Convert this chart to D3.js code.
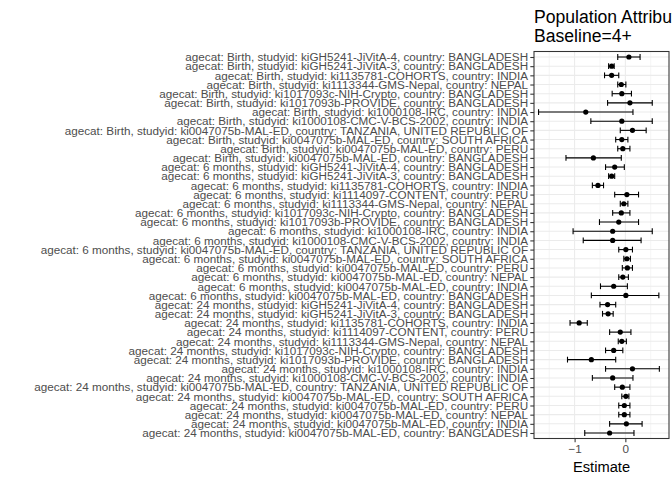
<!DOCTYPE html>
<html>
<head>
<meta charset="utf-8">
<script src="https://cdn.jsdelivr.net/npm/d3@7"></script>
<style>
html,body{margin:0;padding:0;background:#fff;}
svg{display:block;}
text{font-family:"Liberation Sans",Arial,Helvetica,sans-serif;}
</style>
</head>
<body>
<svg id="chart" width="672" height="480"></svg>
<script>
// ---- data (top to bottom) ----
const agecats = [
  "Birth","Birth","Birth","Birth","Birth","Birth","Birth","Birth","Birth","Birth","Birth","Birth",
  "6 months","6 months","6 months","6 months","6 months","6 months","6 months","6 months","6 months","6 months","6 months","6 months","6 months","6 months","6 months",
  "24 months","24 months","24 months","24 months","24 months","24 months","24 months","24 months","24 months","24 months","24 months","24 months","24 months","24 months","24 months"
];
const studyids = [
  "kiGH5241-JiVitA-4","kiGH5241-JiVitA-3","ki1135781-COHORTS","ki1113344-GMS-Nepal","ki1017093c-NIH-Crypto","ki1017093b-PROVIDE","ki1000108-IRC","ki1000108-CMC-V-BCS-2002","ki0047075b-MAL-ED","ki0047075b-MAL-ED","ki0047075b-MAL-ED","ki0047075b-MAL-ED",
  "kiGH5241-JiVitA-4","kiGH5241-JiVitA-3","ki1135781-COHORTS","ki1114097-CONTENT","ki1113344-GMS-Nepal","ki1017093c-NIH-Crypto","ki1017093b-PROVIDE","ki1000108-IRC","ki1000108-CMC-V-BCS-2002","ki0047075b-MAL-ED","ki0047075b-MAL-ED","ki0047075b-MAL-ED","ki0047075b-MAL-ED","ki0047075b-MAL-ED","ki0047075b-MAL-ED",
  "kiGH5241-JiVitA-4","kiGH5241-JiVitA-3","ki1135781-COHORTS","ki1114097-CONTENT","ki1113344-GMS-Nepal","ki1017093c-NIH-Crypto","ki1017093b-PROVIDE","ki1000108-IRC","ki1000108-CMC-V-BCS-2002","ki0047075b-MAL-ED","ki0047075b-MAL-ED","ki0047075b-MAL-ED","ki0047075b-MAL-ED","ki0047075b-MAL-ED","ki0047075b-MAL-ED"
];
const countries = [
  "BANGLADESH","BANGLADESH","INDIA","NEPAL","BANGLADESH","BANGLADESH","INDIA","INDIA","TANZANIA, UNITED REPUBLIC OF","SOUTH AFRICA","PERU","BANGLADESH",
  "BANGLADESH","BANGLADESH","INDIA","PERU","NEPAL","BANGLADESH","BANGLADESH","INDIA","INDIA","TANZANIA, UNITED REPUBLIC OF","SOUTH AFRICA","PERU","NEPAL","INDIA","BANGLADESH",
  "BANGLADESH","BANGLADESH","INDIA","PERU","NEPAL","BANGLADESH","BANGLADESH","INDIA","INDIA","TANZANIA, UNITED REPUBLIC OF","SOUTH AFRICA","PERU","NEPAL","INDIA","BANGLADESH"
];
const estimates = [
  0.07,-0.27,-0.27,-0.08,-0.07,0.09,-0.78,-0.07,0.14,-0.07,-0.05,-0.63,
  -0.21,-0.27,-0.54,0.03,-0.03,-0.08,-0.13,-0.25,-0.25,0.01,0.03,0.04,-0.05,-0.23,0.01,
  -0.35,-0.34,-0.91,-0.10,-0.07,-0.23,-0.67,0.14,-0.25,-0.06,0.01,-0.02,-0.02,0.02,-0.31
];
const lowers = [
  -0.15,-0.33,-0.41,-0.15,-0.26,-0.35,-1.71,-0.68,-0.10,-0.19,-0.15,-1.17,
  -0.39,-0.33,-0.65,-0.21,-0.10,-0.25,-0.51,-1.03,-0.83,-0.13,-0.03,-0.06,-0.13,-0.49,-0.67,
  -0.50,-0.45,-1.09,-0.31,-0.14,-0.39,-1.14,-0.39,-0.65,-0.21,-0.07,-0.13,-0.13,-0.31,-0.80
];
const uppers = [
  0.29,-0.22,-0.13,0.01,0.12,0.53,0.15,0.53,0.41,0.05,0.09,-0.08,
  -0.02,-0.21,-0.43,0.26,0.05,0.09,0.26,0.53,0.31,0.14,0.10,0.14,0.06,0.04,0.66,
  -0.19,-0.24,-0.75,0.11,0.02,-0.05,-0.19,0.67,0.15,0.09,0.07,0.09,0.09,0.33,0.17
];
const xTicks = [-1, 0];
const xMinor = [-1.5, -0.5, 0.5];
const xDomain = [-1.80, 0.86];
const titleLines = ["Population Attributable Difference", "Baseline=4+"];
const xTitle = "Estimate";

// ---- build ----
const labels = agecats.map((a, i) => `agecat: ${a}, studyid: ${studyids[i]}, country: ${countries[i]}`);
const rows = labels.map((l, i) => ({key: i, label: l, est: estimates[i], lo: lowers[i], hi: uppers[i]}));

const svg = d3.select("#chart");
const panel = {left: 534, right: 669, top: 51.5, bottom: 438.5};

const x = d3.scaleLinear().domain(xDomain).range([panel.left, panel.right]);
const y = d3.scalePoint().domain(rows.map(d => d.key)).range([panel.top, panel.bottom]).padding(0.6);

// panel background
svg.append("rect").attr("x", panel.left).attr("y", panel.top)
  .attr("width", panel.right - panel.left).attr("height", panel.bottom - panel.top)
  .attr("fill", "#fff");

// grid
const grid = svg.append("g");
grid.selectAll(".minor").data(xMinor).join("line")
  .attr("x1", d => x(d)).attr("x2", d => x(d))
  .attr("y1", panel.top).attr("y2", panel.bottom)
  .attr("stroke", "#EBEBEB").attr("stroke-width", 0.55);
grid.selectAll(".hmaj").data(rows).join("line")
  .attr("x1", panel.left).attr("x2", panel.right)
  .attr("y1", d => y(d.key)).attr("y2", d => y(d.key))
  .attr("stroke", "#EBEBEB").attr("stroke-width", 1.07);
grid.selectAll(".vmaj").data(xTicks).join("line")
  .attr("x1", d => x(d)).attr("x2", d => x(d))
  .attr("y1", panel.top).attr("y2", panel.bottom)
  .attr("stroke", "#EBEBEB").attr("stroke-width", 1.07);

// error bars
const cap = 2.9;
const eb = svg.append("g").attr("stroke", "#000").attr("stroke-width", 1.1).attr("fill", "none");
eb.selectAll(".h").data(rows).join("line")
  .attr("x1", d => x(d.lo)).attr("x2", d => x(d.hi))
  .attr("y1", d => y(d.key)).attr("y2", d => y(d.key));
eb.selectAll(".l").data(rows).join("line")
  .attr("x1", d => x(d.lo)).attr("x2", d => x(d.lo))
  .attr("y1", d => y(d.key) - cap).attr("y2", d => y(d.key) + cap);
eb.selectAll(".r").data(rows).join("line")
  .attr("x1", d => x(d.hi)).attr("x2", d => x(d.hi))
  .attr("y1", d => y(d.key) - cap).attr("y2", d => y(d.key) + cap);

// points
svg.append("g").selectAll("circle").data(rows).join("circle")
  .attr("cx", d => x(d.est)).attr("cy", d => y(d.key)).attr("r", 2.6).attr("fill", "#000");

// panel border
svg.append("rect").attr("x", panel.left).attr("y", panel.top)
  .attr("width", panel.right - panel.left).attr("height", panel.bottom - panel.top)
  .attr("fill", "none").attr("stroke", "#333333").attr("stroke-width", 1.07);

// y axis
const yAxis = d3.axisLeft(y).tickSize(3.7).tickPadding(2.2).tickFormat(k => rows[k].label);
const gy = svg.append("g").attr("transform", `translate(${panel.left},0)`).call(yAxis);
gy.select(".domain").remove();
gy.selectAll(".tick line").attr("stroke", "#333333").attr("stroke-width", 1.07);
gy.selectAll(".tick text").attr("fill", "#4D4D4D").style("font-size", "11.7px");

// x axis
const xAxis = d3.axisBottom(x).tickValues(xTicks).tickSize(3.7).tickPadding(2.2).tickFormat(d3.format("d"));
const gx = svg.append("g").attr("transform", `translate(0,${panel.bottom})`).call(xAxis);
gx.select(".domain").remove();
gx.selectAll(".tick line").attr("stroke", "#333333").attr("stroke-width", 1.07);
gx.selectAll(".tick text").attr("fill", "#4D4D4D").style("font-size", "11.7px");

// x title
svg.append("text").attr("x", (panel.left + panel.right) / 2).attr("y", 472)
  .attr("text-anchor", "middle").attr("fill", "#000").style("font-size", "14.7px").text(xTitle);

// title
const t = svg.append("text").attr("x", panel.left).attr("fill", "#000").style("font-size", "17.6px");
titleLines.forEach((s, i) => t.append("tspan").attr("x", panel.left).attr("y", 23 + i * 19).text(s));
</script>
</body>
</html>
